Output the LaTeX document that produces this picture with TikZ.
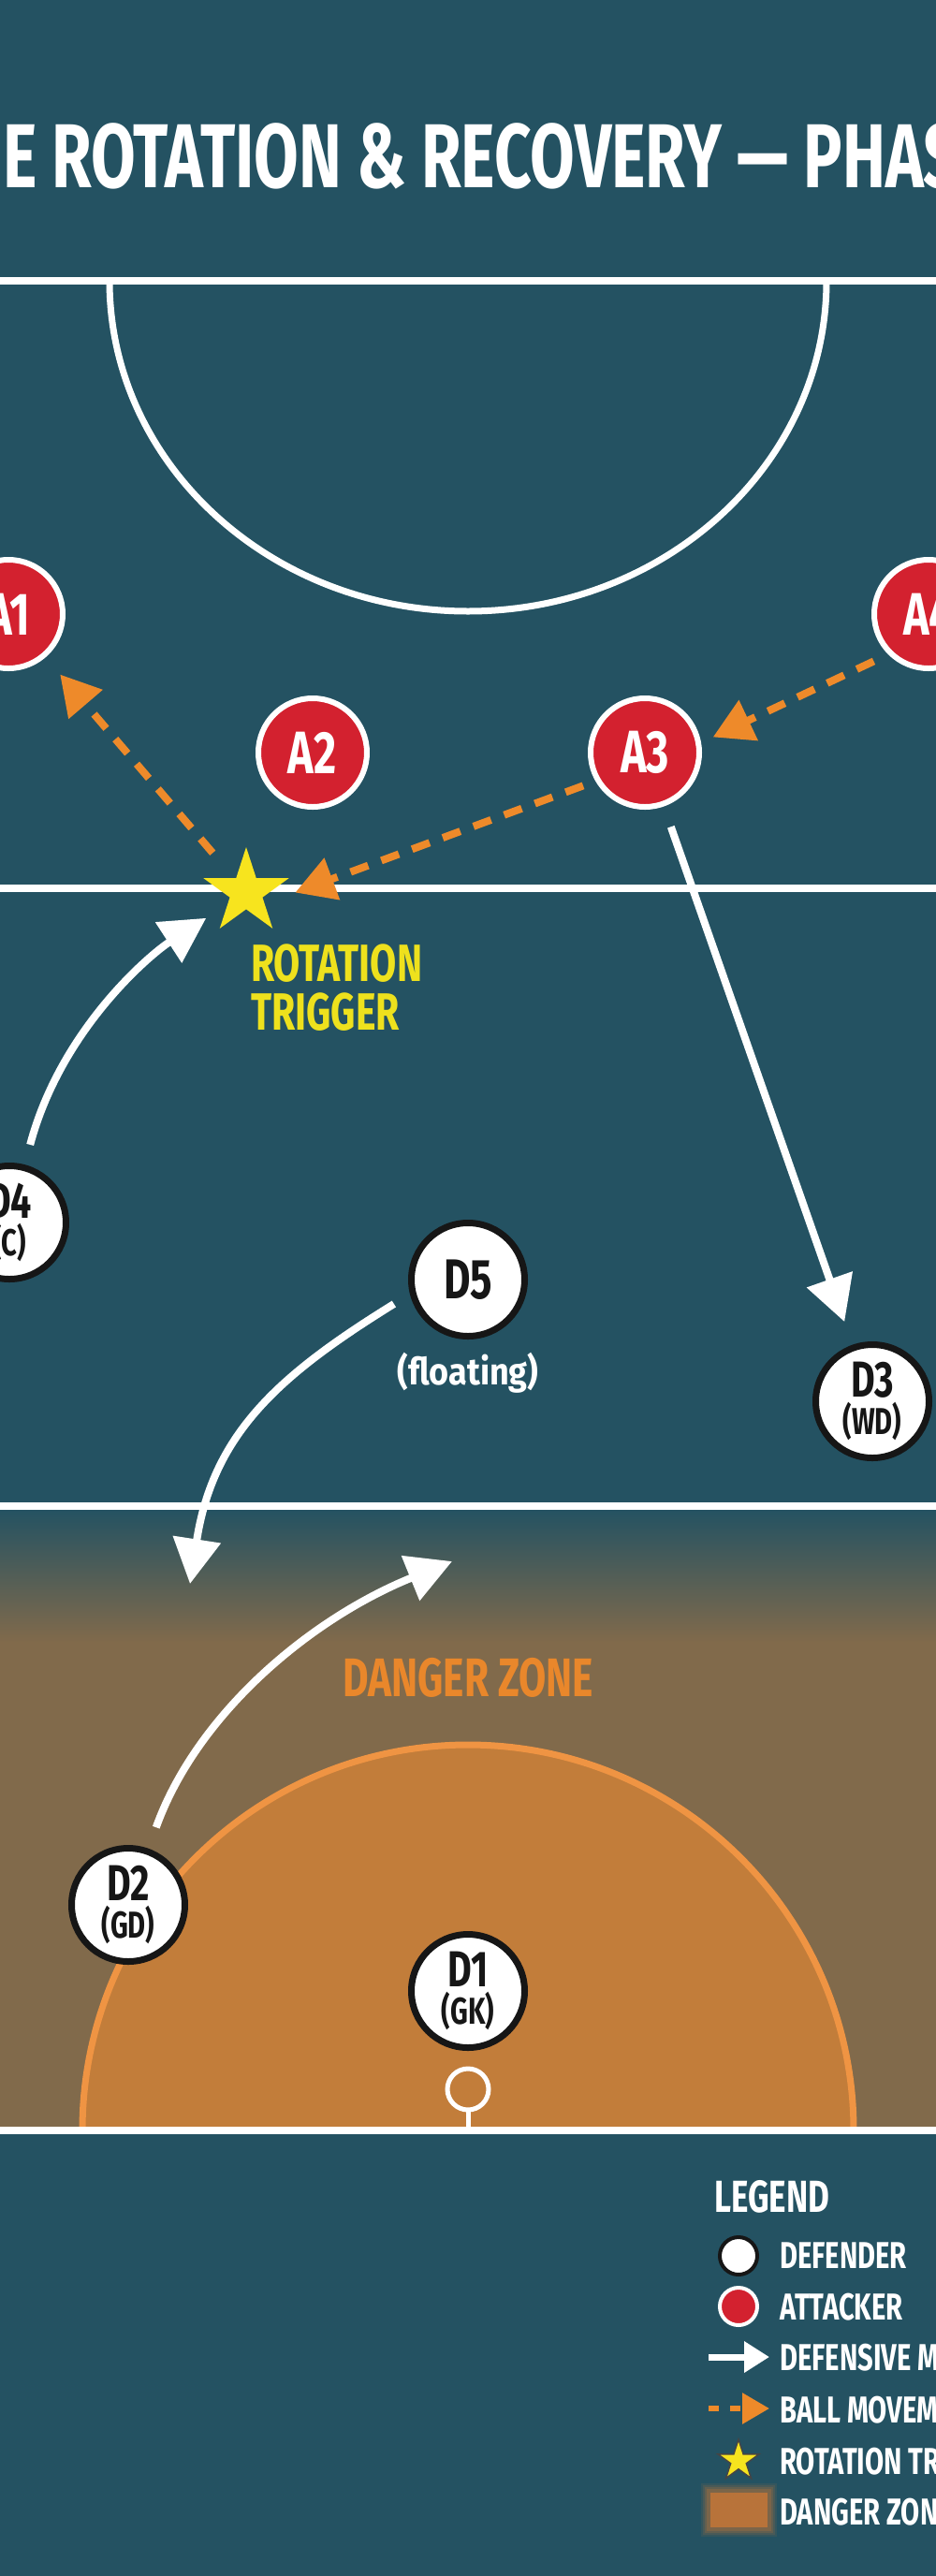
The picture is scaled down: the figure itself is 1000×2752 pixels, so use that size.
\documentclass[tikz,border=0pt]{standalone}
\usepackage{fontspec}
\setmainfont{Fira Sans}
\newfontfamily\cf{Fira Sans}[FakeStretch=0.73]
\newfontfamily\cft{Fira Sans}[FakeStretch=0.712]
\newfontfamily\cfw{Fira Sans}[FakeStretch=0.9]
\usetikzlibrary{arrows.meta,shapes.geometric,calc}
\definecolor{bg}{HTML}{245262}
\definecolor{redA}{HTML}{D3212F}
\definecolor{orng}{HTML}{EE8A2A}
\definecolor{yel}{HTML}{F7E41E}
\definecolor{yeltxt}{HTML}{EEE11D}
\definecolor{zone}{HTML}{816A4B}
\definecolor{dzone}{HTML}{C27D3A}
\definecolor{dzstroke}{HTML}{EF9443}
\definecolor{dangertxt}{HTML}{E9872B}
\definecolor{blk}{HTML}{161616}
\definecolor{swatch}{HTML}{B8733A}
\newcommand{\dlab}[2]{{\fontsize{54}{40}\selectfont #1}\\#2}
\begin{document}
\begin{tikzpicture}[x=1pt,y=-1pt,
  court/.style={draw=white, line width=8pt},
  attn/.style={circle, fill=redA, draw=white, line width=6pt, minimum size=116pt, inner sep=0pt,
    text=white, font=\cf\bfseries\fontsize{64}{64}\selectfont},
  defn/.style={circle, fill=white, draw=blk, line width=7pt, minimum size=121pt, inner sep=0pt,
    text=blk, font=\cf\bfseries\fontsize{60}{60}\selectfont},
  deftwo/.style={defn, align=center, font=\cf\bfseries\fontsize{40}{40}\selectfont},
  defmv/.style={draw=white, line width=8pt, -{Triangle[length=48pt,width=50pt]}},
  ballmv/.style={draw=orng, line width=8pt, dash pattern=on 20pt off 15pt, -{Triangle[length=42pt,width=46pt]}},
  lgtxt/.style={anchor=base west, text=white, inner sep=0pt, font=\cf\bfseries\fontsize{40}{40}\selectfont},
  trig/.style={anchor=base west, text=yeltxt, inner sep=0pt, font=\cf\bfseries\fontsize{56}{56}\selectfont},
  starshape/.style={star, star points=5, star point ratio=2.618, inner sep=0pt, fill=yel}
]
\useasboundingbox (0,0) rectangle (1000,2752);
\clip (0,0) rectangle (1000,2752);
\fill[bg] (0,0) rectangle (1000,2752);

% danger zone background
\shade[top color=bg, bottom color=zone] (0,1612) rectangle (1000,1755);
\fill[zone] (0,1754) rectangle (1000,2273);
% shooting circle (danger zone)
\filldraw[fill=dzone, draw=dzstroke, line width=7pt] (88,2276) arc[start angle=180, end angle=360, radius=412];
% goal post
\draw[white, line width=5pt] (500,2254) -- (500,2276);
\filldraw[fill=dzone, draw=white, line width=5pt] (500,2232) circle[radius=22];

% title
\node[anchor=base west, inner sep=0pt, text=white, font=\cft\bfseries\fontsize{97}{97}\selectfont] (title) at (3,200) {E ROTATION \& RECOVERY — PHAS};

% court lines
\draw[court] (0,300) -- (1000,300);
\draw[court, line width=7pt] (117,300) arc[start angle=180, end angle=0, x radius=383, y radius=353];
\draw[court] (0,949) -- (1000,949);
\draw[court] (0,1609) -- (1000,1609);
\draw[court] (0,2276) -- (1000,2276);

% players
\node[attn] (A1) at (9,656) {A1};
\node[attn] (A2) at (334,804) {A2};
\node[attn] (A3) at (689,804) {A3};
\node[attn] (A4) at (992,656) {A4};

\node[deftwo] (D4) at (10,1306) {\dlab{D4}{(C)}};
\node[defn] (D5) at (500,1367) {D5};
\node[deftwo] (D3) at (932,1497) {\dlab{D3}{(WD)}};
\node[deftwo] (D2) at (137,2035) {\dlab{D2}{(GD)}};
\node[deftwo] (D1) at (500,2127) {\dlab{D1}{(GK)}};

\node[text=white, inner sep=0pt, font=\cfw\bfseries\fontsize{40}{40}\selectfont] (float) at (500,1467) {(floating)};

% rotation trigger
\node[starshape, minimum size=96pt] (star) at (263,953) {};
\node[trig] (trig1) at (268,1048) {ROTATION};
\node[trig] (trig2) at (268,1100) {TRIGGER};

% danger zone label
\node[text=dangertxt, inner sep=0pt, font=\cf\bfseries\fontsize{58}{58}\selectfont] (dzlabel) at (500,1792) {DANGER ZONE};

% ball movement
\draw[ballmv, shorten <=55pt, shorten >=85pt] (star.center) -- (A1.center);
\draw[ballmv, shorten <=17pt, shorten >=14pt] (A4.225) -- (A3.10);
\draw[ballmv, shorten <=14pt, shorten >=56pt] (A3.210) -- ([yshift=-20pt]star.center);

% defensive movement
\coordinate (d5tip) at (203,1692);
\coordinate (d2tip) at (483,1668);
\draw[defmv, shorten <=22pt, shorten >=51pt] (D4) .. controls (65,1100) and (160,1020) .. (star.center);
\draw[defmv, shorten <=23pt, shorten >=26pt] (A3) -- (D3);
\draw[defmv, shorten <=20pt] (D5.194) .. controls (300,1468) and (228,1530) .. (d5tip);
\draw[defmv, shorten <=24pt] (D2) .. controls (210,1832) and (330,1730) .. (d2tip);

% legend
\node[anchor=base west, inner sep=0pt, text=white, font=\cf\bfseries\fontsize{48}{48}\selectfont] (lgtitle) at (763,2363) {LEGEND};
\node[circle, fill=white, draw=blk, line width=4pt, minimum size=40pt, inner sep=0pt] (ldef) at (789,2410) {};
\node[lgtxt] (ldeft) at (833,2423) {DEFENDER};
\node[circle, fill=redA, draw=white, line width=4pt, minimum size=40pt, inner sep=0pt] (latt) at (789,2464) {};
\node[lgtxt] (lattt) at (833,2478) {ATTACKER};
\coordinate (lw0) at (757,2518);
\coordinate (lw1) at (822,2518);
\draw[draw=white, line width=7pt, -{Triangle[length=27pt,width=32pt]}] (lw0) -- (lw1);
\node[lgtxt] (lwt) at (833,2532) {DEFENSIVE MOVEMENT};
\coordinate (lb0) at (757,2573);
\coordinate (lb1) at (822,2573);
\draw[draw=orng, line width=6pt, dash pattern=on 11pt off 12pt, -{Triangle[length=29pt,width=32pt]}] (lb0) -- (lb1);
\node[lgtxt] (lbt) at (833,2588) {BALL MOVEMENT};
\node[starshape, minimum size=46pt, draw=blk!80, line width=1.5pt] (lstar) at (789,2629) {};
\node[lgtxt] (lst) at (833,2643) {ROTATION TRIGGER};
\foreach \d/\o in {8/0.12,6/0.16,4/0.22,2/0.3}{
  \fill[swatch, opacity=\o] (757-\d,2661-\d) rectangle (822+\d,2702+\d);
}
\fill[swatch] (759,2663) rectangle (820,2700);
\node[lgtxt] (lzt) at (833,2697) {DANGER ZONE};
\end{tikzpicture}
\end{document}
